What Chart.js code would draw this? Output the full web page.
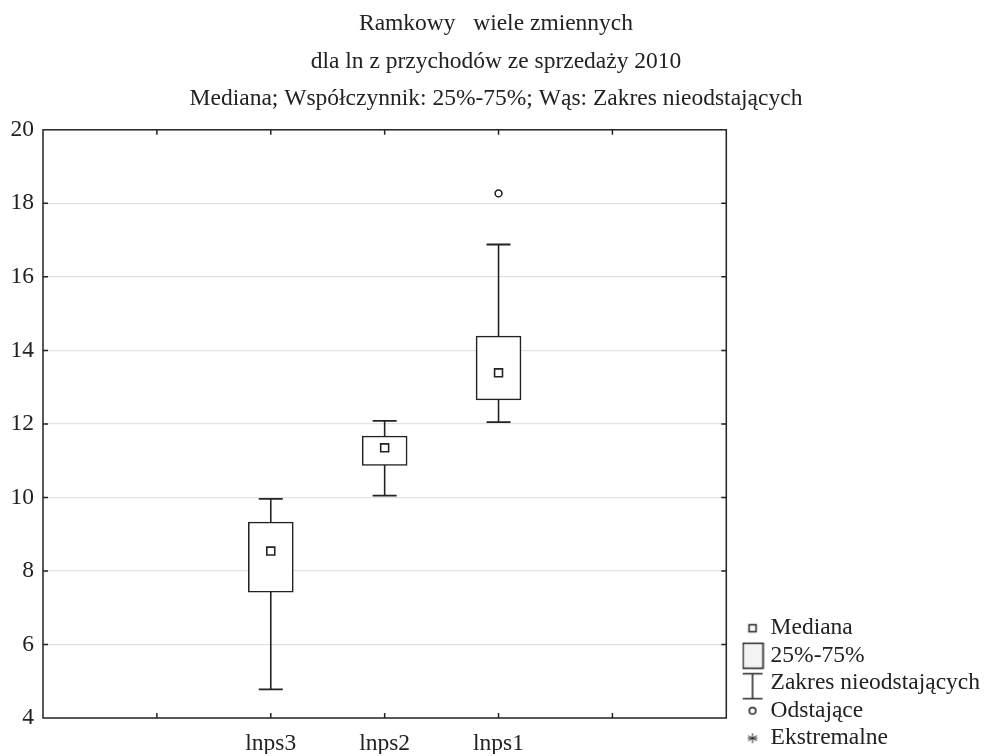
<!DOCTYPE html>
<html lang="pl">
<head>
<meta charset="UTF-8">
<title>Ramkowy wiele zmiennych</title>
<script src="https://cdn.jsdelivr.net/npm/chart.js@4"></script>
<style>
  body { margin: 0; background: #fff; }
  #wrap { width: 986px; height: 756px; }
</style>
</head>
<body>
<div id="wrap"><canvas id="boxChart"></canvas></div>
<script>
// data
const variables = ['lnps3', 'lnps2', 'lnps1'];
const xPositions = [2, 3, 4];
const whiskerLow = [4.78, 10.05, 12.05];
const quartile1 = [7.42, 10.87, 12.65];
const medians = [8.54, 11.35, 13.39];
const quartile3 = [9.33, 11.67, 14.39];
const whiskerHigh = [9.96, 12.08, 16.88];
const outlierX = [4];
const outlierValues = [18.27];
const titleLines = ['Ramkowy   wiele zmiennych', 'dla ln z przychodów ze sprzedaży 2010',
  'Mediana; Współczynnik: 25%-75%; Wąs: Zakres nieodstających'];
const legendLabels = ['Mediana', '25%-75%', 'Zakres nieodstających', 'Odstające', 'Ekstremalne'];

const INK = '#222';
const FONT = 'Liberation Serif';

// small canvases used as legend symbols
function icon(w, h, draw) {
  const c = document.createElement('canvas');
  c.width = w; c.height = h;
  const g = c.getContext('2d');
  g.strokeStyle = INK; g.lineWidth = 1.5;
  draw(g);
  return c;
}
const legendIcons = [
  icon(12, 12, g => { g.fillStyle = '#fff'; g.fillRect(2, 2, 7, 7); g.strokeRect(2.5, 2.5, 7, 7); }),
  icon(24, 28, g => { g.fillStyle = '#f3f3f3'; g.fillRect(2, 1, 21, 26); g.strokeRect(2.5, 1.5, 20, 25); }),
  icon(24, 34, g => {
    g.beginPath();
    g.moveTo(2, 7.5); g.lineTo(22, 7.5);
    g.moveTo(12, 7.5); g.lineTo(12, 32.5);
    g.moveTo(2, 32.5); g.lineTo(22, 32.5);
    g.stroke();
  }),
  icon(12, 12, g => { g.beginPath(); g.arc(6, 6, 3.3, 0, Math.PI * 2); g.stroke(); }),
  icon(14, 14, g => {
    g.lineWidth = 1;
    g.beginPath();
    for (let k = 0; k < 3; k++) {
      const a = Math.PI / 2 + k * Math.PI / 3;
      g.moveTo(7 - 5 * Math.cos(a), 7 - 5 * Math.sin(a));
      g.lineTo(7 + 5 * Math.cos(a), 7 + 5 * Math.sin(a));
    }
    g.moveTo(2, 7); g.lineTo(12, 7);
    g.stroke();
  })
];

// frame around the plot with inward tick marks
const framePlugin = {
  id: 'frame',
  afterDatasetsDraw(chart) {
    const { ctx, chartArea: a, scales } = chart;
    ctx.save();
    ctx.strokeStyle = INK;
    ctx.lineWidth = 1.5;
    ctx.strokeRect(a.left, a.top, a.right - a.left, a.bottom - a.top);
    ctx.beginPath();
    scales.x.ticks.forEach(t => {
      if (t.value <= scales.x.min || t.value >= scales.x.max) return;
      const px = scales.x.getPixelForValue(t.value);
      ctx.moveTo(px, a.bottom); ctx.lineTo(px, a.bottom - 5);
      ctx.moveTo(px, a.top); ctx.lineTo(px, a.top + 5);
    });
    scales.y.ticks.forEach(t => {
      if (t.value <= scales.y.min || t.value >= scales.y.max) return;
      const py = scales.y.getPixelForValue(t.value);
      ctx.moveTo(a.left, py); ctx.lineTo(a.left + 5, py);
      ctx.moveTo(a.right, py); ctx.lineTo(a.right - 5, py);
    });
    ctx.stroke();
    ctx.restore();
  }
};

const whiskerPoints = xPositions.flatMap((x, i) => [
  { x: x, y: whiskerLow[i] }, { x: x, y: whiskerHigh[i] }, { x: x, y: null }
]);

new Chart(document.getElementById('boxChart'), {
  type: 'bar',
  data: {
    datasets: [
      {
        type: 'scatter',
        label: 'Mediana',
        data: xPositions.map((x, i) => ({ x: x, y: medians[i] })),
        pointStyle: 'rect',
        pointRadius: 5.6,
        pointBorderWidth: 1.6,
        pointBackgroundColor: '#fff',
        pointBorderColor: INK,
        order: 1
      },
      {
        type: 'scatter',
        label: 'Odstające',
        data: outlierX.map((x, i) => ({ x: x, y: outlierValues[i] })),
        pointStyle: 'circle',
        pointRadius: 3.4,
        pointBorderWidth: 1.6,
        pointBackgroundColor: '#fff',
        pointBorderColor: INK,
        order: 1
      },
      {
        type: 'bar',
        label: '25%-75%',
        data: xPositions.map((x, i) => ({ x: x, y: [quartile1[i], quartile3[i]] })),
        backgroundColor: '#fff',
        borderColor: INK,
        borderWidth: 1.6,
        borderSkipped: false,
        barThickness: 45,
        order: 2
      },
      {
        type: 'line',
        label: 'Zakres nieodstających',
        data: whiskerPoints,
        borderColor: INK,
        borderWidth: 1.6,
        spanGaps: false,
        pointStyle: 'line',
        pointRadius: 12,
        pointBorderWidth: 1.8,
        pointBorderColor: INK,
        order: 3
      }
    ]
  },
  options: {
    responsive: true,
    maintainAspectRatio: false,
    animation: false,
    layout: { padding: { left: 2, right: -4, top: 0, bottom: 2 } },
    plugins: {
      tooltip: { enabled: false },
      title: {
        display: true,
        text: titleLines,
        color: INK,
        font: { family: FONT, size: 23.5, weight: 'normal', lineHeight: 1.6 },
        padding: { top: 5, bottom: 12 }
      },
      legend: {
        position: 'right',
        align: 'end',
        maxWidth: 400,
        onClick: null,
        labels: {
          usePointStyle: true,
          color: INK,
          padding: 4,
          pointStyleWidth: 12.5,
          font: { family: FONT, size: 23.5 },
          generateLabels: () => legendLabels.map((text, i) => ({
            text: text,
            pointStyle: legendIcons[i],
            fillStyle: '#fff',
            strokeStyle: INK,
            lineWidth: 0,
            fontColor: INK,
            hidden: false,
            datasetIndex: i
          }))
        }
      }
    },
    scales: {
      x: {
        type: 'linear',
        min: 0,
        max: 6,
        offset: false,
        grid: { display: false, drawTicks: false },
        border: { display: false },
        afterFit: s => { s.height = 36; },
        ticks: {
          stepSize: 1,
          autoSkip: false,
          maxRotation: 0,
          padding: 12,
          color: INK,
          font: { family: FONT, size: 23.5 },
          callback: v => {
            const i = xPositions.indexOf(v);
            return i >= 0 ? variables[i] : '';
          }
        }
      },
      y: {
        min: 4,
        max: 20,
        afterFit: s => { s.width = 41; },
        grid: {
          drawTicks: false,
          color: c => (c.tick && (c.tick.value === 4 || c.tick.value === 20)) ? 'rgba(0,0,0,0)' : '#e3e3e3',
          lineWidth: 1.2
        },
        border: { display: false },
        ticks: {
          stepSize: 2,
          padding: 9,
          color: INK,
          font: { family: FONT, size: 23.5 }
        }
      },
      // empty strip between the plot frame and the legend
      gap: {
        position: 'right',
        grid: { display: false, drawTicks: false },
        border: { display: false },
        ticks: { display: false },
        afterFit: s => { s.width = 16; }
      }
    }
  },
  plugins: [framePlugin]
});
</script>
</body>
</html>
